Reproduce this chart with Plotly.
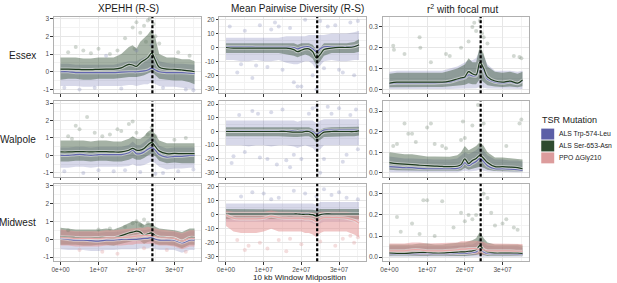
import plotly.graph_objects as go

# ---------------- data ----------------
WINDOW_MB = [0, 2, 4, 6, 8, 10, 12, 14, 16, 18, 19, 20, 21, 22, 23, 24, 25, 26, 28, 30, 32, 34, 35.3]
POPULATIONS = ["Essex", "Walpole", "Midwest"]
STATISTICS = ["XPEHH (R-S)", "Mean Pairwise Diversity (R-S)", "r<sup>2</sup> with focal mut"]
MUTATIONS = ["ALS Trp-574-Leu", "ALS Ser-653-Asn", "PPO \u0394Gly210"]
FOCAL_MB = 24.2
X_TICK_VALS = [0, 1e7, 2e7, 3e7]
X_TICK_TEXT = ["0e+00", "1e+07", "2e+07", "3e+07"]
X_MINOR_VALS = [5e6, 1.5e7, 2.5e7, 3.5e7]
Y_TICK_VALS = [[-1, 0, 1, 2, 3], [-30, -20, -10, 0, 10, 20], [0, 0.1, 0.2, 0.3]]
Y_TICK_TEXT = [["-1", "0", "1", "2", "3"], ["-30", "-20", "-10", "0", "10", "20"], ["0.0", "0.1", "0.2", "0.3"]]
Y_MINOR_VALS = [[-0.5, 0.5, 1.5, 2.5], [-25, -15, -5, 5, 15], [0.05, 0.15, 0.25]]

# Essex XPEHH
E_X_574 = [0.00, 0.00, -0.05, -0.05, -0.05, -0.05, -0.05, -0.05, -0.02, 0.00, 0.00, 0.00, 0.02, 0.05, 0.10, 0.20, 0.10, 0.00, -0.05, -0.05, -0.05, -0.08, -0.10]
E_X_574_LO = [-0.80, -0.80, -0.80, -0.85, -0.85, -0.80, -0.80, -0.80, -0.80, -0.75, -0.75, -0.80, -0.75, -0.70, -0.70, -0.60, -0.70, -0.80, -0.85, -0.85, -0.90, -0.95, -1.00]
E_X_574_HI = [0.45, 0.45, 0.40, 0.40, 0.40, 0.40, 0.40, 0.40, 0.50, 0.60, 0.60, 0.60, 0.70, 0.80, 0.90, 1.00, 0.90, 0.60, 0.50, 0.45, 0.45, 0.40, 0.40]
E_X_653 = [0.15, 0.15, 0.14, 0.12, 0.12, 0.14, 0.15, 0.15, 0.22, 0.42, 0.38, 0.30, 0.50, 0.65, 0.80, 1.05, 0.65, 0.25, 0.15, 0.14, 0.10, 0.05, 0.00]
E_X_653_LO = [-0.45, -0.40, -0.40, -0.45, -0.45, -0.40, -0.40, -0.40, -0.35, -0.30, -0.30, -0.30, -0.25, -0.20, -0.10, 0.00, -0.20, -0.40, -0.45, -0.50, -0.50, -0.60, -0.70]
E_X_653_HI = [0.80, 0.80, 0.80, 0.75, 0.75, 0.80, 0.80, 0.80, 1.00, 1.40, 1.50, 1.30, 1.70, 1.90, 2.10, 2.40, 1.90, 1.00, 0.80, 0.80, 0.70, 0.70, 0.60]
E_X_OUT_653_X = [2, 4, 6, 10, 13, 17, 19, 20, 21, 22, 23, 23.5, 24.5, 25, 26, 31, 34, 22.5, 19.5, 8, 15]
E_X_OUT_653_Y = [1.1, 1.4, 1.2, 1.3, 1.0, 1.9, 2.5, 2.8, 2.2, 2.6, 2.9, 3.0, 2.7, 2.0, 1.6, 1.1, 0.9, 1.7, 1.3, 1.05, 1.2]
E_X_OUT_574_X = [1, 5, 9, 12, 16, 20, 24, 27, 33, 35]
E_X_OUT_574_Y = [-0.9, -1.0, -0.9, 0.9, -0.95, 1.2, 1.5, -0.9, -1.0, -1.05]

# Essex pi
E_P_574 = [0.5, 0.5, 0.5, 0.5, 0.3, 0.3, 0.3, 0.3, 0.3, 0.0, -1.0, 0.0, 0.5, 0.5, -1.0, -3.0, -1.0, 0.5, 0.5, 0.5, 0.5, 1.0, 1.5]
E_P_574_LO = [-9, -9, -10, -10, -9, -10, -10, -9, -11, -12, -12, -11, -10, -10, -12, -16, -13, -10, -9, -10, -10, -9, -9]
E_P_574_HI = [7, 7, 7, 7, 7, 7, 7, 7, 8, 8, 8, 8, 8, 9, 9, 9, 9, 9, 10, 10, 10, 11, 12]
E_P_653 = [0.0, -0.5, -0.5, -0.5, -0.5, -0.5, -0.5, -0.5, -0.5, -1.5, -3.0, -2.0, -1.0, -1.0, -3.0, -7.5, -5.0, -1.5, -0.5, 0.0, 0.0, 0.5, 2.0]
E_P_653_LO = [-4, -4, -4, -4, -4, -4, -4, -4, -5, -6, -7, -6, -5, -6, -8, -13, -10, -6, -4, -4, -4, -4, -3]
E_P_653_HI = [3, 3, 3, 3, 3, 3, 3, 3, 3, 3, 2, 3, 3, 3, 2, -2, 0, 3, 3, 3, 3, 4, 6]
E_P_OUT_574_X = [1, 3, 5, 7, 9, 11, 13, 15, 17, 19, 21, 23, 25, 27, 29, 31, 33, 35, 4, 12, 18, 26, 8, 14, 20, 30, 34, 24]
E_P_OUT_574_Y = [15, -18, 12, -22, 16, -14, 18, -16, 14, -28, 20, -20, 19, 15, 16, -18, 18, 19, -12, 13, -25, -15, -13, 15, -28, -16, -20, -30]

# Essex r2
E_R_574 = [0.028, 0.030, 0.030, 0.030, 0.030, 0.030, 0.030, 0.032, 0.035, 0.045, 0.050, 0.055, 0.070, 0.065, 0.065, 0.110, 0.090, 0.050, 0.035, 0.030, 0.035, 0.028, 0.040]
E_R_574_LO = [0.002, 0.002, 0.002, 0.002, 0.002, 0.002, 0.002, 0.002, 0.002, 0.003, 0.004, 0.005, 0.006, 0.006, 0.006, 0.012, 0.008, 0.004, 0.002, 0.002, 0.002, 0.002, 0.002]
E_R_574_HI = [0.085, 0.09, 0.09, 0.09, 0.09, 0.09, 0.09, 0.09, 0.10, 0.11, 0.12, 0.13, 0.14, 0.14, 0.15, 0.19, 0.16, 0.12, 0.09, 0.09, 0.09, 0.085, 0.09]
E_R_653 = [0.030, 0.035, 0.035, 0.035, 0.035, 0.035, 0.035, 0.035, 0.040, 0.050, 0.055, 0.060, 0.085, 0.075, 0.070, 0.130, 0.100, 0.060, 0.040, 0.035, 0.040, 0.030, 0.045]
E_R_653_LO = [0.010, 0.012, 0.012, 0.012, 0.012, 0.012, 0.012, 0.012, 0.014, 0.018, 0.020, 0.022, 0.030, 0.025, 0.025, 0.050, 0.035, 0.020, 0.014, 0.012, 0.014, 0.010, 0.015]
E_R_653_HI = [0.075, 0.08, 0.08, 0.08, 0.08, 0.08, 0.08, 0.08, 0.09, 0.10, 0.11, 0.12, 0.15, 0.13, 0.13, 0.21, 0.17, 0.11, 0.085, 0.08, 0.085, 0.075, 0.085]
E_R_OUT_653_X = [1, 1.2, 4, 8, 8.2, 11, 15, 16, 19, 21, 22, 22.5, 23, 24, 24.5, 25, 26, 33, 34.5, 35]
E_R_OUT_653_Y = [0.21, 0.19, 0.17, 0.25, 0.2, 0.13, 0.17, 0.16, 0.2, 0.23, 0.3, 0.32, 0.28, 0.33, 0.27, 0.25, 0.22, 0.16, 0.155, 0.15]

# Walpole XPEHH
W_X_574 = [0.00, 0.00, 0.05, 0.05, 0.00, 0.05, 0.05, 0.05, 0.05, 0.15, 0.30, 0.10, 0.10, 0.20, 0.35, 0.45, 0.30, 0.05, -0.10, -0.05, -0.05, 0.00, 0.00]
W_X_574_LO = [-0.70, -0.70, -0.65, -0.65, -0.70, -0.65, -0.65, -0.65, -0.65, -0.60, -0.50, -0.60, -0.60, -0.55, -0.45, -0.35, -0.45, -0.65, -0.80, -0.75, -0.75, -0.70, -0.70]
W_X_574_HI = [0.45, 0.45, 0.50, 0.50, 0.45, 0.50, 0.50, 0.50, 0.50, 0.60, 0.80, 0.60, 0.60, 0.75, 0.95, 1.10, 0.90, 0.55, 0.40, 0.45, 0.45, 0.45, 0.45]
W_X_653 = [0.20, 0.20, 0.22, 0.22, 0.20, 0.22, 0.22, 0.20, 0.20, 0.30, 0.40, 0.30, 0.30, 0.40, 0.60, 0.75, 0.50, 0.25, 0.10, 0.12, 0.10, 0.10, 0.10]
W_X_653_LO = [-0.35, -0.35, -0.30, -0.30, -0.35, -0.30, -0.30, -0.35, -0.35, -0.25, -0.15, -0.25, -0.25, -0.15, 0.00, 0.10, -0.05, -0.30, -0.45, -0.40, -0.45, -0.45, -0.45]
W_X_653_HI = [0.85, 0.85, 0.85, 0.85, 0.80, 0.85, 0.85, 0.80, 0.80, 0.95, 1.10, 0.95, 0.95, 1.10, 1.35, 1.50, 1.20, 0.85, 0.70, 0.70, 0.70, 0.70, 0.70]
W_X_OUT_653_X = [2, 3, 5, 7, 9, 11, 13, 15, 18, 19, 20, 23, 24, 25, 30, 33, 4, 16]
W_X_OUT_653_Y = [1.1, 0.95, 1.5, 2.2, 1.3, 1.1, 1.2, 1.5, 1.8, 1.95, 1.3, 1.2, 1.6, 1.1, 0.9, 1.0, 1.7, 1.4]
W_X_OUT_574_X = [1, 6, 10, 14, 21, 27, 31, 35, 17, 25]
W_X_OUT_574_Y = [-0.9, -1.0, -0.85, -0.9, -0.95, -1.0, -0.9, -0.8, -0.85, -1.05]

# Walpole pi
W_P_574 = [0.5, 0.5, 0.5, 0.5, 0.5, 0.5, 0.5, 0.5, 0.5, 0.5, 0.0, 0.5, 0.5, 0.5, 0.0, -2.0, -0.5, 1.0, 1.0, 1.0, 1.0, 1.0, 1.0]
W_P_574_LO = [-10, -10, -10, -11, -10, -10, -11, -10, -10, -11, -12, -11, -10, -11, -12, -15, -13, -10, -10, -10, -10, -10, -10]
W_P_574_HI = [8, 8, 8, 8, 8, 8, 8, 8, 8, 8, 7, 8, 8, 8, 8, 6, 8, 9, 9, 9, 9, 9, 9]
W_P_653 = [0.0, 0.0, 0.0, 0.0, 0.0, 0.0, 0.0, 0.0, 0.0, -0.5, -0.5, -0.5, 0.0, 0.0, -1.5, -4.5, -2.5, -0.5, 0.0, 0.0, 0.0, 0.0, 0.5]
W_P_653_LO = [-3.5, -3.5, -3.5, -3.5, -3.5, -3.5, -3.5, -3.5, -3.5, -4, -4, -4, -3.5, -3.5, -5, -8, -6, -4, -3.5, -3.5, -3.5, -3.5, -3]
W_P_653_HI = [3, 3, 3, 3, 3, 3, 3, 3, 3, 2.5, 2.5, 2.5, 3, 3, 2, -1, 1, 2.5, 3, 3, 3, 3, 3.5]
W_P_OUT_574_X = [2, 3.5, 5, 7, 9, 11, 12, 13.5, 15, 16, 18, 20, 22, 23, 24, 25, 27, 28, 30, 32, 33, 34.5, 1.5, 8.5, 17, 26, 31, 35]
W_P_OUT_574_Y = [-18, 12, -15, 15, -19, -20, 14, -24, 16, -21, -17, -20, 13, 17, 18, -30, 18, 13, 17, -17, 12, 16, -23, 13, -26, -20, -22, -13]

# Walpole r2
W_R_574 = [0.030, 0.028, 0.025, 0.025, 0.022, 0.020, 0.020, 0.020, 0.020, 0.022, 0.030, 0.050, 0.035, 0.045, 0.055, 0.070, 0.055, 0.035, 0.020, 0.020, 0.018, 0.015, 0.012]
W_R_574_LO = [0.003, 0.003, 0.003, 0.003, 0.003, 0.003, 0.003, 0.003, 0.003, 0.003, 0.005, 0.010, 0.006, 0.008, 0.010, 0.015, 0.010, 0.006, 0.003, 0.003, 0.003, 0.003, 0.003]
W_R_574_HI = [0.08, 0.075, 0.07, 0.07, 0.068, 0.065, 0.065, 0.065, 0.065, 0.07, 0.085, 0.10, 0.09, 0.10, 0.11, 0.13, 0.11, 0.085, 0.065, 0.065, 0.06, 0.06, 0.055]
W_R_653 = [0.050, 0.045, 0.042, 0.040, 0.037, 0.035, 0.033, 0.031, 0.030, 0.032, 0.040, 0.068, 0.045, 0.060, 0.070, 0.085, 0.070, 0.050, 0.030, 0.030, 0.028, 0.025, 0.020]
W_R_653_LO = [0.015, 0.013, 0.012, 0.012, 0.010, 0.010, 0.010, 0.009, 0.009, 0.010, 0.012, 0.025, 0.015, 0.020, 0.025, 0.030, 0.025, 0.015, 0.009, 0.009, 0.008, 0.007, 0.006]
W_R_653_HI = [0.10, 0.095, 0.09, 0.09, 0.085, 0.08, 0.08, 0.078, 0.078, 0.085, 0.10, 0.13, 0.11, 0.12, 0.13, 0.15, 0.13, 0.10, 0.075, 0.075, 0.07, 0.068, 0.065]
W_R_OUT_653_X = [2, 4, 5, 6, 10, 11, 12, 14, 19, 19.5, 20, 22, 23.5, 25, 31, 34.5, 35, 1, 7, 15]
W_R_OUT_653_Y = [0.14, 0.24, 0.19, 0.19, 0.22, 0.24, 0.14, 0.13, 0.16, 0.25, 0.17, 0.23, 0.33, 0.24, 0.13, 0.24, 0.26, 0.13, 0.15, 0.12]

# Midwest XPEHH
M_X_574 = [0.05, 0.00, -0.05, -0.05, -0.08, -0.10, -0.05, -0.05, 0.00, 0.00, 0.00, 0.00, 0.02, 0.05, 0.05, 0.10, 0.00, -0.05, -0.05, -0.05, -0.20, -0.05, -0.05]
M_X_574_LO = [-0.55, -0.6, -0.6, -0.6, -0.65, -0.65, -0.6, -0.6, -0.55, -0.55, -0.55, -0.55, -0.5, -0.5, -0.5, -0.45, -0.55, -0.6, -0.6, -0.6, -0.75, -0.6, -0.6]
M_X_574_HI = [0.5, 0.45, 0.4, 0.4, 0.4, 0.35, 0.4, 0.4, 0.45, 0.5, 0.5, 0.5, 0.5, 0.5, 0.55, 0.6, 0.5, 0.45, 0.4, 0.4, 0.3, 0.45, 0.45]
M_X_653 = [0.13, 0.12, 0.10, 0.08, 0.08, 0.10, 0.10, 0.08, 0.20, 0.35, 0.40, 0.45, 0.40, 0.22, 0.30, 0.35, 0.20, 0.12, 0.10, 0.05, -0.10, 0.10, 0.10]
M_X_653_LO = [-0.3, -0.3, -0.3, -0.35, -0.35, -0.3, -0.3, -0.35, -0.25, -0.15, -0.1, -0.1, -0.1, -0.25, -0.15, -0.1, -0.25, -0.3, -0.3, -0.35, -0.5, -0.3, -0.3]
M_X_653_HI = [0.65, 0.6, 0.55, 0.55, 0.55, 0.55, 0.6, 0.55, 0.7, 0.9, 1.0, 1.0, 0.95, 0.8, 0.9, 0.9, 0.7, 0.6, 0.55, 0.5, 0.4, 0.6, 0.6]
M_X_210 = [0.10, 0.08, 0.05, 0.05, 0.05, 0.05, 0.08, 0.08, 0.10, 0.12, 0.15, 0.18, 0.20, 0.20, 0.22, 0.20, 0.15, 0.10, 0.08, 0.05, -0.10, 0.05, 0.05]
M_X_210_LO = [-0.35, -0.35, -0.4, -0.4, -0.4, -0.4, -0.35, -0.35, -0.35, -0.3, -0.3, -0.25, -0.25, -0.25, -0.25, -0.25, -0.3, -0.35, -0.35, -0.4, -0.55, -0.4, -0.4]
M_X_210_HI = [0.55, 0.5, 0.45, 0.45, 0.45, 0.45, 0.5, 0.5, 0.55, 0.6, 0.6, 0.65, 0.65, 0.65, 0.7, 0.65, 0.6, 0.55, 0.5, 0.45, 0.35, 0.5, 0.5]
M_X_OUT_653_X = [19, 20, 21, 21.5, 22, 23, 13, 2, 17, 24, 10]
M_X_OUT_653_Y = [0.9, 1.0, 0.8, 0.75, 1.1, 0.9, 0.6, 0.5, 0.7, 0.8, 0.55]
M_X_OUT_210_X = [5, 11, 15, 22, 28, 33]
M_X_OUT_210_Y = [-0.6, -0.7, -0.8, -0.5, -0.6, -0.7]

# Midwest pi
M_P_574 = [0.5, 0.5, 0.5, 0.5, 0.5, 0.5, 0.5, 0.5, 0.5, 0.5, 0.5, 0.5, 0.5, 0.5, 0.0, -0.5, 0.0, 0.5, 0.5, 0.5, 0.5, 0.5, 0.5]
M_P_574_LO = [-5, -5, -5, -5, -5, -5, -5, -5, -5, -5, -5, -5, -5, -5, -6, -7, -6, -5, -5, -5, -5, -5, -5]
M_P_574_HI = [8, 8, 8, 8, 8, 8, 8, 8, 8, 8, 8, 8, 8, 8, 8, 7, 9, 9, 9, 9, 9, 9, 9]
M_P_653 = [0.5, 0.5, 0.5, 0.5, 0.5, 0.5, 0.5, 0.5, 0.5, 0.5, 0.5, 0.3, 0.3, 0.3, 0.0, -1.0, 0.0, 0.5, 0.5, 0.5, 0.5, 0.5, 0.5]
M_P_653_LO = [-3, -3, -3, -3, -3, -3, -3, -3, -3, -3, -3, -3, -3, -3, -4, -5, -4, -3, -3, -3, -3, -3, -3]
M_P_653_HI = [4, 4, 4, 4, 4, 4, 4, 4, 4, 4, 4, 4, 4, 4, 3.5, 3, 4, 4, 4, 4, 4, 4, 4]
M_P_210 = [0.0, -2.5, -3.0, -3.0, -3.0, -2.5, -1.0, -2.0, -2.5, -2.5, -2.5, -2.5, -3.0, -3.0, -3.5, -5.0, -3.0, -2.0, -2.0, -2.0, -2.5, -4.0, -6.0]
M_P_210_LO = [-8, -12, -13, -13, -13, -12, -10, -12, -12, -12, -12, -12, -13, -13, -14, -16, -13, -12, -12, -12, -12, -14, -16]
M_P_210_HI = [3, 2, 2, 2, 2, 2, 3, 2, 2, 2, 2, 2, 2, 2, 1.5, 1, 2, 2, 2, 2, 2, 1, 0]
M_P_OUT_210_X = [3, 5, 6, 9, 11, 14, 16, 17, 20, 25, 29, 31, 33, 34, 35]
M_P_OUT_210_Y = [-18, -25, -22, -20, -24, -18, -26, -17, -21, -19, -22, -17, -15, -20, -16]
M_P_OUT_574_X = [4, 7, 10, 12, 14, 18, 21, 24, 26, 28, 30, 32, 35]
M_P_OUT_574_Y = [13, 16, 15, 11, 12, 17, 15, 13, 18, 14, 16, 12, 11]

# Midwest r2
M_R_574 = [0.015, 0.014, 0.014, 0.015, 0.016, 0.016, 0.015, 0.015, 0.016, 0.018, 0.018, 0.018, 0.020, 0.022, 0.025, 0.040, 0.025, 0.018, 0.015, 0.015, 0.015, 0.014, 0.013]
M_R_574_LO = [0.002, 0.002, 0.002, 0.002, 0.002, 0.002, 0.002, 0.002, 0.002, 0.002, 0.002, 0.002, 0.002, 0.002, 0.003, 0.005, 0.003, 0.002, 0.002, 0.002, 0.002, 0.002, 0.002]
M_R_574_HI = [0.05, 0.05, 0.05, 0.05, 0.05, 0.05, 0.05, 0.05, 0.05, 0.055, 0.055, 0.055, 0.06, 0.06, 0.07, 0.09, 0.07, 0.055, 0.05, 0.05, 0.05, 0.05, 0.045]
M_R_653 = [0.020, 0.018, 0.018, 0.020, 0.022, 0.022, 0.020, 0.020, 0.022, 0.024, 0.025, 0.025, 0.028, 0.030, 0.035, 0.055, 0.035, 0.025, 0.020, 0.020, 0.020, 0.020, 0.018]
M_R_653_LO = [0.005, 0.005, 0.005, 0.005, 0.005, 0.005, 0.005, 0.005, 0.005, 0.006, 0.006, 0.006, 0.007, 0.008, 0.010, 0.015, 0.010, 0.006, 0.005, 0.005, 0.005, 0.005, 0.005]
M_R_653_HI = [0.06, 0.06, 0.06, 0.06, 0.065, 0.065, 0.06, 0.06, 0.065, 0.07, 0.07, 0.07, 0.075, 0.08, 0.09, 0.12, 0.09, 0.07, 0.06, 0.06, 0.06, 0.06, 0.055]
M_R_210 = [0.030, 0.030, 0.030, 0.035, 0.035, 0.030, 0.030, 0.030, 0.032, 0.035, 0.038, 0.038, 0.040, 0.040, 0.040, 0.035, 0.035, 0.030, 0.030, 0.030, 0.030, 0.028, 0.028]
M_R_210_LO = [0.010, 0.010, 0.010, 0.012, 0.012, 0.010, 0.010, 0.010, 0.011, 0.012, 0.013, 0.013, 0.014, 0.014, 0.014, 0.012, 0.012, 0.010, 0.010, 0.010, 0.010, 0.009, 0.009]
M_R_210_HI = [0.065, 0.065, 0.065, 0.07, 0.07, 0.065, 0.065, 0.065, 0.068, 0.07, 0.075, 0.075, 0.078, 0.078, 0.078, 0.075, 0.072, 0.065, 0.065, 0.065, 0.065, 0.062, 0.062]
M_R_OUT_653_X = [2, 6, 9, 10, 14, 3, 17, 19, 20, 21, 22, 23, 24, 25, 26, 27, 28, 30, 31, 33, 34, 12, 8]
M_R_OUT_653_Y = [0.19, 0.16, 0.27, 0.27, 0.265, 0.12, 0.14, 0.21, 0.17, 0.2, 0.18, 0.2, 0.25, 0.3, 0.28, 0.21, 0.15, 0.16, 0.18, 0.14, 0.13, 0.1, 0.11]

# ---------------- assembly ----------------
SERIES = {
    (0, 0): [(0, E_X_574, E_X_574_LO, E_X_574_HI), (1, E_X_653, E_X_653_LO, E_X_653_HI)],
    (0, 1): [(0, E_P_574, E_P_574_LO, E_P_574_HI), (1, E_P_653, E_P_653_LO, E_P_653_HI)],
    (0, 2): [(0, E_R_574, E_R_574_LO, E_R_574_HI), (1, E_R_653, E_R_653_LO, E_R_653_HI)],
    (1, 0): [(0, W_X_574, W_X_574_LO, W_X_574_HI), (1, W_X_653, W_X_653_LO, W_X_653_HI)],
    (1, 1): [(0, W_P_574, W_P_574_LO, W_P_574_HI), (1, W_P_653, W_P_653_LO, W_P_653_HI)],
    (1, 2): [(0, W_R_574, W_R_574_LO, W_R_574_HI), (1, W_R_653, W_R_653_LO, W_R_653_HI)],
    (2, 0): [(0, M_X_574, M_X_574_LO, M_X_574_HI), (1, M_X_653, M_X_653_LO, M_X_653_HI), (2, M_X_210, M_X_210_LO, M_X_210_HI)],
    (2, 1): [(0, M_P_574, M_P_574_LO, M_P_574_HI), (1, M_P_653, M_P_653_LO, M_P_653_HI), (2, M_P_210, M_P_210_LO, M_P_210_HI)],
    (2, 2): [(0, M_R_574, M_R_574_LO, M_R_574_HI), (1, M_R_653, M_R_653_LO, M_R_653_HI), (2, M_R_210, M_R_210_LO, M_R_210_HI)],
}
OUTLIERS = {
    (0, 0): [(0, E_X_OUT_574_X, E_X_OUT_574_Y), (1, E_X_OUT_653_X, E_X_OUT_653_Y)],
    (0, 1): [(0, E_P_OUT_574_X, E_P_OUT_574_Y)],
    (0, 2): [(1, E_R_OUT_653_X, E_R_OUT_653_Y)],
    (1, 0): [(0, W_X_OUT_574_X, W_X_OUT_574_Y), (1, W_X_OUT_653_X, W_X_OUT_653_Y)],
    (1, 1): [(0, W_P_OUT_574_X, W_P_OUT_574_Y)],
    (1, 2): [(1, W_R_OUT_653_X, W_R_OUT_653_Y)],
    (2, 0): [(1, M_X_OUT_653_X, M_X_OUT_653_Y), (2, M_X_OUT_210_X, M_X_OUT_210_Y)],
    (2, 1): [(0, M_P_OUT_574_X, M_P_OUT_574_Y), (2, M_P_OUT_210_X, M_P_OUT_210_Y)],
    (2, 2): [(1, M_R_OUT_653_X, M_R_OUT_653_Y)],
}

# ---------------- styling ----------------
W, H = 617, 283
FONT = "Liberation Sans, Arial, Helvetica, sans-serif"
COL_PX = [(52, 200), (218, 365), (382, 529)]
ROW_PX = [(15, 92), (100, 176), (183, 261)]
X_RANGE = [-1.77e6, 3.71e7]
Y_RANGES = [[-1.22, 3.1], [-33, 22], [-0.019, 0.348]]
BAND_COL = ["rgba(100,104,170,0.26)", "rgba(40,72,40,0.42)", "rgba(228,150,150,0.55)"]
PT_COL = ["rgba(120,124,175,0.28)", "rgba(95,115,95,0.28)", "rgba(225,165,165,0.38)"]
LINE_COL = ["#6367b0", "#1d3a1d", "#e8a6a6"]
KEY_COL = ["#5c5fa6", "#2f4b2f", "#dc9c9c"]

fig = go.Figure()
layout = dict(width=W, height=H, margin=dict(l=0, r=0, t=0, b=0), autosize=False,
              paper_bgcolor="white", plot_bgcolor="white", showlegend=False,
              font=dict(family=FONT, color="#1a1a1a"))
shapes, annotations = [], []


def px_x(p):
    return p / W


def px_y(p):
    return 1 - p / H


for r in range(3):
    for c in range(3):
        n = r * 3 + c + 1
        xs = "x" if n == 1 else f"x{n}"
        ys = "y" if n == 1 else f"y{n}"
        xa = "xaxis" if n == 1 else f"xaxis{n}"
        ya = "yaxis" if n == 1 else f"yaxis{n}"
        layout[xa] = dict(
            domain=[px_x(COL_PX[c][0]), px_x(COL_PX[c][1])], anchor=ys, range=X_RANGE,
            tickmode="array", tickvals=X_TICK_VALS, ticktext=X_TICK_TEXT,
            showticklabels=(r == 2), ticks="outside", ticklen=2.5, tickwidth=0.8, tickcolor="#333333",
            tickfont=dict(size=6.5, color="#4d4d4d", family=FONT),
            showgrid=True, gridcolor="#e6e6e6", gridwidth=0.7, zeroline=False,
            showline=True, mirror=True, linecolor="#b0b0b0", linewidth=1,
            minor=dict(tickmode="array", tickvals=X_MINOR_VALS, showgrid=True, gridcolor="#f3f3f3", gridwidth=0.5, ticks=""),
        )
        layout[ya] = dict(
            domain=[px_y(ROW_PX[r][1]), px_y(ROW_PX[r][0])], anchor=xs, range=Y_RANGES[c],
            tickmode="array", tickvals=Y_TICK_VALS[c], ticktext=Y_TICK_TEXT[c],
            ticks="outside", ticklen=2.5, tickwidth=0.8, tickcolor="#333333",
            tickfont=dict(size=6.5, color="#4d4d4d", family=FONT),
            showgrid=True, gridcolor="#e6e6e6", gridwidth=0.7, zeroline=False,
            showline=True, mirror=True, linecolor="#b0b0b0", linewidth=1,
            minor=dict(tickmode="array", tickvals=Y_MINOR_VALS[c], showgrid=True, gridcolor="#f3f3f3", gridwidth=0.5, ticks=""),
        )
        xb = [v * 1e6 for v in WINDOW_MB]
        for (m, line, lo, hi) in SERIES[(r, c)]:
            fig.add_trace(go.Scatter(x=xb + xb[::-1], y=hi + lo[::-1], fill="toself", mode="lines",
                                     line=dict(width=0), fillcolor=BAND_COL[m], hoverinfo="skip",
                                     xaxis=xs, yaxis=ys))
        for (m, ox, oy) in OUTLIERS[(r, c)]:
            fig.add_trace(go.Scatter(x=[v * 1e6 for v in ox], y=oy, mode="markers",
                                     marker=dict(size=4, color=PT_COL[m], line=dict(width=0)),
                                     hoverinfo="skip", xaxis=xs, yaxis=ys))
        for (m, line, lo, hi) in SERIES[(r, c)]:
            fig.add_trace(go.Scatter(x=xb, y=line, mode="lines",
                                     line=dict(color="rgba(235,235,235,0.55)", width=3.2, shape="spline"),
                                     hoverinfo="skip", xaxis=xs, yaxis=ys))
            fig.add_trace(go.Scatter(x=xb, y=line, mode="lines",
                                     line=dict(color=LINE_COL[m], width=1.2, shape="spline"),
                                     hoverinfo="skip", xaxis=xs, yaxis=ys))
        shapes.append(dict(type="line", xref=xs, yref=f"{ys} domain", x0=FOCAL_MB * 1e6, x1=FOCAL_MB * 1e6,
                           y0=0, y1=1, line=dict(color="black", width=2.2, dash="3px,2px")))

TITLE_X = [127, 296, 462]
for c in range(3):
    annotations.append(dict(text=STATISTICS[c], x=px_x(TITLE_X[c]), y=px_y(7), xref="paper", yref="paper",
                            showarrow=False, xanchor="center", yanchor="middle",
                            font=dict(size=10, color="#1a1a1a", family=FONT)))
for r in range(3):
    annotations.append(dict(text=POPULATIONS[r], x=px_x(36), y=px_y((ROW_PX[r][0] + ROW_PX[r][1]) / 2),
                            xref="paper", yref="paper", showarrow=False, xanchor="right", yanchor="middle",
                            font=dict(size=10, color="#1a1a1a", family=FONT)))
annotations.append(dict(text="10 kb Window Midposition", x=px_x(298), y=px_y(277), xref="paper", yref="paper",
                        showarrow=False, xanchor="center", yanchor="middle",
                        font=dict(size=8, color="#1a1a1a", family=FONT)))
annotations.append(dict(text="TSR Mutation", x=px_x(540), y=px_y(119), xref="paper", yref="paper",
                        showarrow=False, xanchor="left", yanchor="middle",
                        font=dict(size=9, color="#1a1a1a", family=FONT)))
for i, name in enumerate(MUTATIONS):
    top = 127 + i * 12
    shapes.append(dict(type="rect", xref="paper", yref="paper", x0=px_x(541), x1=px_x(554),
                       y0=px_y(top + 11.5), y1=px_y(top + 0.5), fillcolor=KEY_COL[i], line=dict(width=0)))
    annotations.append(dict(text=name, x=px_x(557), y=px_y(top + 6), xref="paper", yref="paper",
                            showarrow=False, xanchor="left", yanchor="middle",
                            font=dict(size=6.8, color="#1a1a1a", family=FONT)))

layout["shapes"] = shapes
layout["annotations"] = annotations
fig.update_layout(**layout)
fig.write_html("out.html", config={"displayModeBar": False},
               post_script="document.body.style.margin='0';document.body.style.padding='0';document.body.style.overflow='hidden';")
